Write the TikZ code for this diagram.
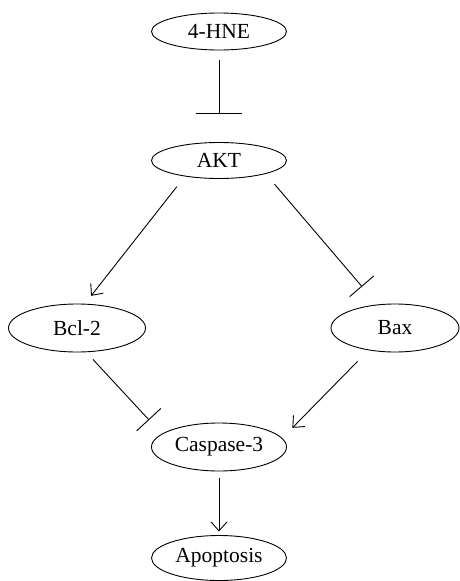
\documentclass[tikz,border=0pt]{standalone}
\usepackage{fontspec}
\setmainfont{Liberation Serif}
\usetikzlibrary{arrows.meta,shapes.geometric}

\begin{document}
\begin{tikzpicture}[x=1pt,y=-1pt,line width=0.9pt,
  mol/.style={ellipse, draw, inner sep=0pt, minimum width=135pt, minimum height=48pt,
    font=\fontsize{21.5}{25}\selectfont},
  act/.style={-{Straight Barb[length=9pt,width=16pt]}},
  inh/.style={-{Bar[width=#1]}}]

\useasboundingbox (0,0) rectangle (460,581);

%% 定义节点(椭圆), 坐标按像素
\node[mol, minimum height=37pt] (hne) at (219,31.5) {4-HNE};
\node[mol, minimum height=36pt] (akt) at (219,160.5) {AKT};
\node[mol, minimum width=137pt] (bcl) at (77,328) {Bcl-2};
\node[mol, minimum width=128pt] (bax) at (395,328) {Bax};
\node[mol] (casp) at (219,447) {Caspase-3};
\node[mol, minimum height=45pt] (apo) at (219,558) {Apoptosis};

%% 抑制: 端点是一条横杠
\draw[inh=46pt, shorten <=10pt, shorten >=28pt] (hne) -- (akt);
\draw[inh=32pt, shorten <=13.6pt, shorten >=23.5pt] (akt.-16) -- (bax.127);
\draw[inh=33pt, shorten <=9.8pt, shorten >=18.8pt] (bcl.-69) -- (casp.167);

%% 激活: 普通箭头
\draw[act, shorten <=13pt, shorten >=10pt] (akt.205) -- (bcl.72);
\draw[act, shorten <=15.6pt, shorten >=14.4pt] (bax.220) -- (casp.8);
\draw[act, shorten <=7pt, shorten >=3.5pt] (casp) -- (apo);

\end{tikzpicture}
\end{document}
